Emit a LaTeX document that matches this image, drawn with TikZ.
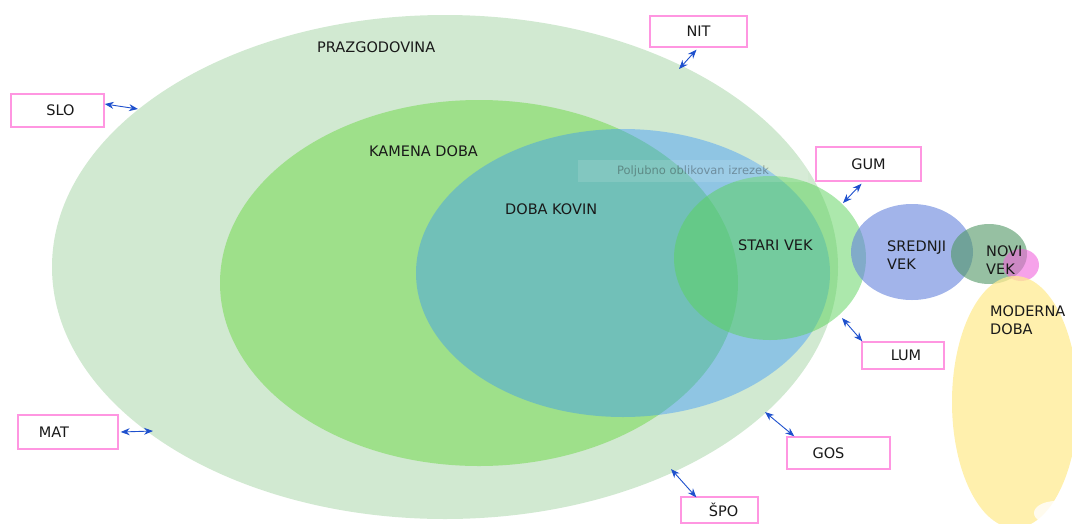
\documentclass[tikz,border=0pt]{standalone}
\usepackage{fontspec}
\setmainfont{DejaVu Sans}
\usetikzlibrary{arrows.meta}
\definecolor{prazg}{RGB}{209,233,209}
\definecolor{kamen}{RGB}{158,224,138}
\definecolor{kovin}{RGB}{46,145,255}
\definecolor{stari}{RGB}{90,210,90}
\definecolor{sred}{RGB}{100,130,220}
\definecolor{novi}{RGB}{80,150,100}
\definecolor{pinkc}{RGB}{240,100,220}
\definecolor{yell}{RGB}{255,235,145}
\definecolor{boxline}{RGB}{255,150,225}
\definecolor{arrowc}{RGB}{30,80,205}
\definecolor{txt}{RGB}{25,25,25}
\tikzset{
  lbl/.style={font=\fontsize{14.5}{17.5}\selectfont, text=txt, inner sep=0pt},
  tagbox/.style={draw=boxline, line width=1.4pt, fill=white, font=\fontsize{14.5}{17.5}\selectfont, text=txt, inner sep=0pt},
  link/.style={draw=arrowc, line width=0.9pt, {Stealth[length=9pt,width=7pt]}-{Stealth[length=9pt,width=7pt]}},
}
\begin{document}
\begin{tikzpicture}[x=1pt,y=-1pt]
\useasboundingbox (0,0) rectangle (1072,523);
\clip (0,0) rectangle (1072,523);
% ellipses
\fill[prazg] (445,267) ellipse [x radius=393, y radius=252];
\fill[kamen] (479,283) ellipse [x radius=259, y radius=183];
\fill[kovin, fill opacity=0.4] (623,273) ellipse [x radius=207, y radius=144];
\fill[stari, fill opacity=0.5] (770,258) ellipse [x radius=96, y radius=82];
\fill[sred, fill opacity=0.6] (912,252) ellipse [x radius=61, y radius=48];
\fill[novi, fill opacity=0.6] (989,254) ellipse [x radius=38, y radius=30];
\fill[pinkc, fill opacity=0.6] (1021,265) ellipse [x radius=18, y radius=16];
\fill[yell, fill opacity=0.75] (1015,402) ellipse [x radius=63, y radius=126];
\fill[white, fill opacity=0.8] (1056,513) ellipse [x radius=22, y radius=12];
% faint caption
\node[fill=white, fill opacity=0.12, text opacity=0.35, text=txt, minimum width=230pt, minimum height=22pt, inner sep=0pt, font=\fontsize{11.5}{13}\selectfont] (cap) at (693,171) {Poljubno oblikovan izrezek};
% labels
\node[lbl, anchor=west] (lpra) at (317,47) {PRAZGODOVINA};
\node[lbl, anchor=west] (lkam) at (369,151) {KAMENA DOBA};
\node[lbl, anchor=west] (lkov) at (505,209) {DOBA KOVIN};
\node[lbl, anchor=west] (lsta) at (738,245) {STARI VEK};
\node[lbl, anchor=north west, align=left] (lsre) at (887,241) {SREDNJI\\VEK};
\node[lbl, anchor=north west, align=left] (lnov) at (986,246) {NOVI\\VEK};
\node[lbl, anchor=north west, align=left] (lmod) at (990,306) {MODERNA\\DOBA};
% boxes
\node[tagbox, minimum width=97pt, minimum height=31pt] (nit) at (698.5,31.5) {NIT};
\node[tagbox, minimum width=93pt, minimum height=33pt] (slo) at (57.5,110.5) {\hspace*{6pt}SLO};
\node[tagbox, minimum width=105pt, minimum height=34pt] (gum) at (868.5,164) {GUM};
\node[tagbox, minimum width=82pt, minimum height=27pt] (lum) at (903,355.5) {\hspace*{6pt}LUM};
\node[tagbox, minimum width=103pt, minimum height=32pt] (gos) at (838.5,453) {GOS\hspace*{20pt}};
\node[tagbox, minimum width=77pt, minimum height=26pt] (spo) at (719.5,510) {\hspace*{8pt}ŠPO};
\node[tagbox, minimum width=100pt, minimum height=34pt] (mat) at (68,432) {MAT\hspace*{28pt}};
% connector ends on the ellipses
\coordinate (eslo) at (138,109);
\coordinate (enit) at (679,69);
\coordinate (egum) at (843,203);
\coordinate (elum) at (842,318);
\coordinate (egos) at (765,412);
\coordinate (espo) at (671,469);
\coordinate (emat) at (153,431);
% connectors
\draw[link] (slo.east |- 0,104) -- (eslo);
\draw[link] (nit.south) ++(-2,2) coordinate (nitb) (nitb) -- (enit);
\draw[link] (gum.south) ++(-7,2) coordinate (gumb) (gumb) -- (egum);
\draw[link] (elum) -- ([xshift=1pt]lum.north west);
\draw[link] (egos) -- ([xshift=8pt]gos.north west);
\draw[link] (espo) -- ([xshift=16pt,yshift=-1pt]spo.north west);
\draw[link] ([xshift=2pt]mat.east) -- (emat);
\end{tikzpicture}
\end{document}
